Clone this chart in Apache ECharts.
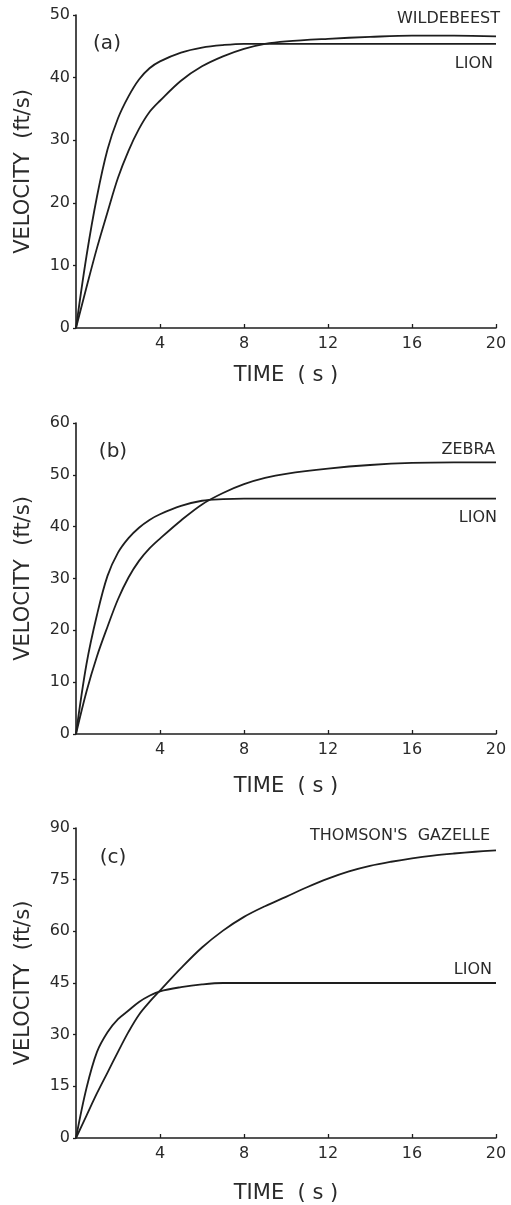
<!DOCTYPE html>
<html><head><meta charset="utf-8">
<script src="https://cdn.jsdelivr.net/npm/echarts@6/dist/echarts.min.js"></script>
<style>html,body{margin:0;padding:0;background:#fff}#c{width:511px;height:1205px}</style>
</head><body><div id="c"></div>
<script>
// ---- data ----
const timeLion = [0,0.5,1,1.5,2,2.5,3,3.5,4,5,6,7,8,10,12,14,16,18,20];
const timePrey = [0,0.5,1,1.5,2,2.5,3,3.5,4,5,6,7,8,9,10,12,14,16,18,20];
const timeGazelle = [0,0.5,1,1.5,2,2.5,3,3.5,4,5,6,7,8,9,10,11,12,13,14,15,16,17,18,19,20];

const lionA = [0,11.5,21,28.5,33.5,37,39.7,41.5,42.6,44.0,44.8,45.2,45.4,45.4,45.4,45.4,45.4,45.4,45.4];
const wildebeest = [0,6.5,12.8,18.5,24,28.3,31.8,34.5,36.3,39.5,41.8,43.4,44.6,45.4,45.8,46.2,46.5,46.7,46.7,46.6];

const lionB = [0,13.5,23,30.5,35,37.8,39.8,41.3,42.4,44.0,45.0,45.3,45.4,45.4,45.4,45.4,45.4,45.4,45.4];
const zebra = [0,8.2,15,20.7,26,30.2,33.4,35.8,37.7,41.2,44.3,46.5,48.2,49.4,50.2,51.2,51.9,52.3,52.4,52.4];

const lionC = [0,14.5,25,30.7,34.5,37,39.5,41.3,42.6,43.8,44.6,45,45,45,45,45,45,45,45];
const gazelle = [0,6.5,13,19,25,30.8,35.8,39.5,42.8,49.3,55.3,60.2,64.2,67.3,70,72.8,75.3,77.4,79,80.2,81.2,82,82.6,83.1,83.5];

const xTicks = {min:0, max:20, interval:4};
const yA = {min:0, max:50, interval:10};
const yB = {min:0, max:60, interval:10};
const yC = {min:0, max:90, interval:15};

const panelLabels = ['(a)','(b)','(c)'];
const seriesNames = [['LION','WILDEBEEST'],['LION','ZEBRA'],['LION',"THOMSON'S  GAZELLE"]];

// ---- chart ----
const FONT = 'DejaVu Sans';
const INK = '#1e1e1e';
const TXT = '#2a2a2a';
const pair = (xs, ys) => xs.map((x,i)=>[x, ys[i]]);

const grids = [
  {left:76, right:15, top:15, height:313},
  {left:76, right:15, top:423, height:311},
  {left:76, right:15, top:828, height:312}
];
const yRanges = [yA, yB, yC];

const xAxes = grids.map((g,i)=>({
  type:'value', gridIndex:i, min:xTicks.min, max:xTicks.max, interval:xTicks.interval,
  name:'TIME  ( s )', nameLocation:'middle', nameGap:[37,42,45][i],
  nameTextStyle:{fontFamily:FONT, fontSize:21, color:TXT},
  axisLine:{show:true, onZero:false, lineStyle:{color:INK, width:1.6}},
  axisTick:{show:true, inside:true, length:4, lineStyle:{color:INK, width:1.3}},
  axisLabel:{showMinLabel:false, fontFamily:FONT, fontSize:16, color:TXT, margin:8},
  splitLine:{show:false}
}));
const yAxes = grids.map((g,i)=>({
  type:'value', gridIndex:i, min:yRanges[i].min, max:yRanges[i].max, interval:yRanges[i].interval,
  name:'VELOCITY  (ft/s)', nameLocation:'middle', nameGap:42, nameRotate:90,
  nameTextStyle:{fontFamily:FONT, fontSize:21, color:TXT},
  axisLine:{show:true, lineStyle:{color:INK, width:1.6}},
  axisTick:{show:true, inside:false, length:3, lineStyle:{color:INK, width:1.3}},
  axisLabel:{fontFamily:FONT, fontSize:16, color:TXT, margin:6},
  splitLine:{show:false}
}));

const lineStyle = {color:INK, width:1.8};
const mk = (name, idx, data) => ({
  name, type:'line', xAxisIndex:idx, yAxisIndex:idx, data,
  showSymbol:false, symbol:'none', smooth:0.35,
  lineStyle, itemStyle:{color:INK}, animation:false, silent:true
});
const series = [
  mk('LION a',0,pair(timeLion,lionA)),
  mk('WILDEBEEST',0,pair(timePrey,wildebeest)),
  mk('LION b',1,pair(timeLion,lionB)),
  mk('ZEBRA',1,pair(timePrey,zebra)),
  mk('LION c',2,pair(timeLion,lionC)),
  mk('GAZELLE',2,pair(timeGazelle,gazelle))
];

const chart = echarts.init(document.getElementById('c'), null, {renderer:'canvas'});
chart.setOption({
  backgroundColor:'#fff', animation:false,
  grid:grids, xAxis:xAxes, yAxis:yAxes, series
});

// labels positioned from the data ends
const last = a => a[a.length-1];
const ends = [
  [lionA, wildebeest], [lionB, zebra], [lionC, gazelle]
];
const offsets = [  // [dx, dy] for lion label, prey label
  [[-3, 20],[4,-17]],
  [[1, 19],[-1,-13]],
  [[-4,-13],[-6,-15]]
];
const graphics = [];
const panelPos = [[31,29],[37,29],[37,30]];
ends.forEach((pr, i)=>{
  pr.forEach((arr, k)=>{
    const p = chart.convertToPixel({gridIndex:i}, [20, last(arr)]);
    graphics.push({type:'text', x:p[0]+offsets[i][k][0], y:p[1]+offsets[i][k][1],
      style:{text:seriesNames[i][k], font:'16px "'+FONT+'"', fill:TXT,
        align:'right', verticalAlign:'middle', textAlign:'right', textVerticalAlign:'middle'}});
  });
  const o = chart.convertToPixel({gridIndex:i}, [0, yRanges[i].max]);
  graphics.push({type:'text', x:o[0]+panelPos[i][0], y:o[1]+panelPos[i][1],
    style:{text:panelLabels[i], font:'20px "'+FONT+'"', fill:TXT,
      align:'center', verticalAlign:'middle', textAlign:'center', textVerticalAlign:'middle'}});
});
chart.setOption({graphic:graphics});
</script>
</body></html>
